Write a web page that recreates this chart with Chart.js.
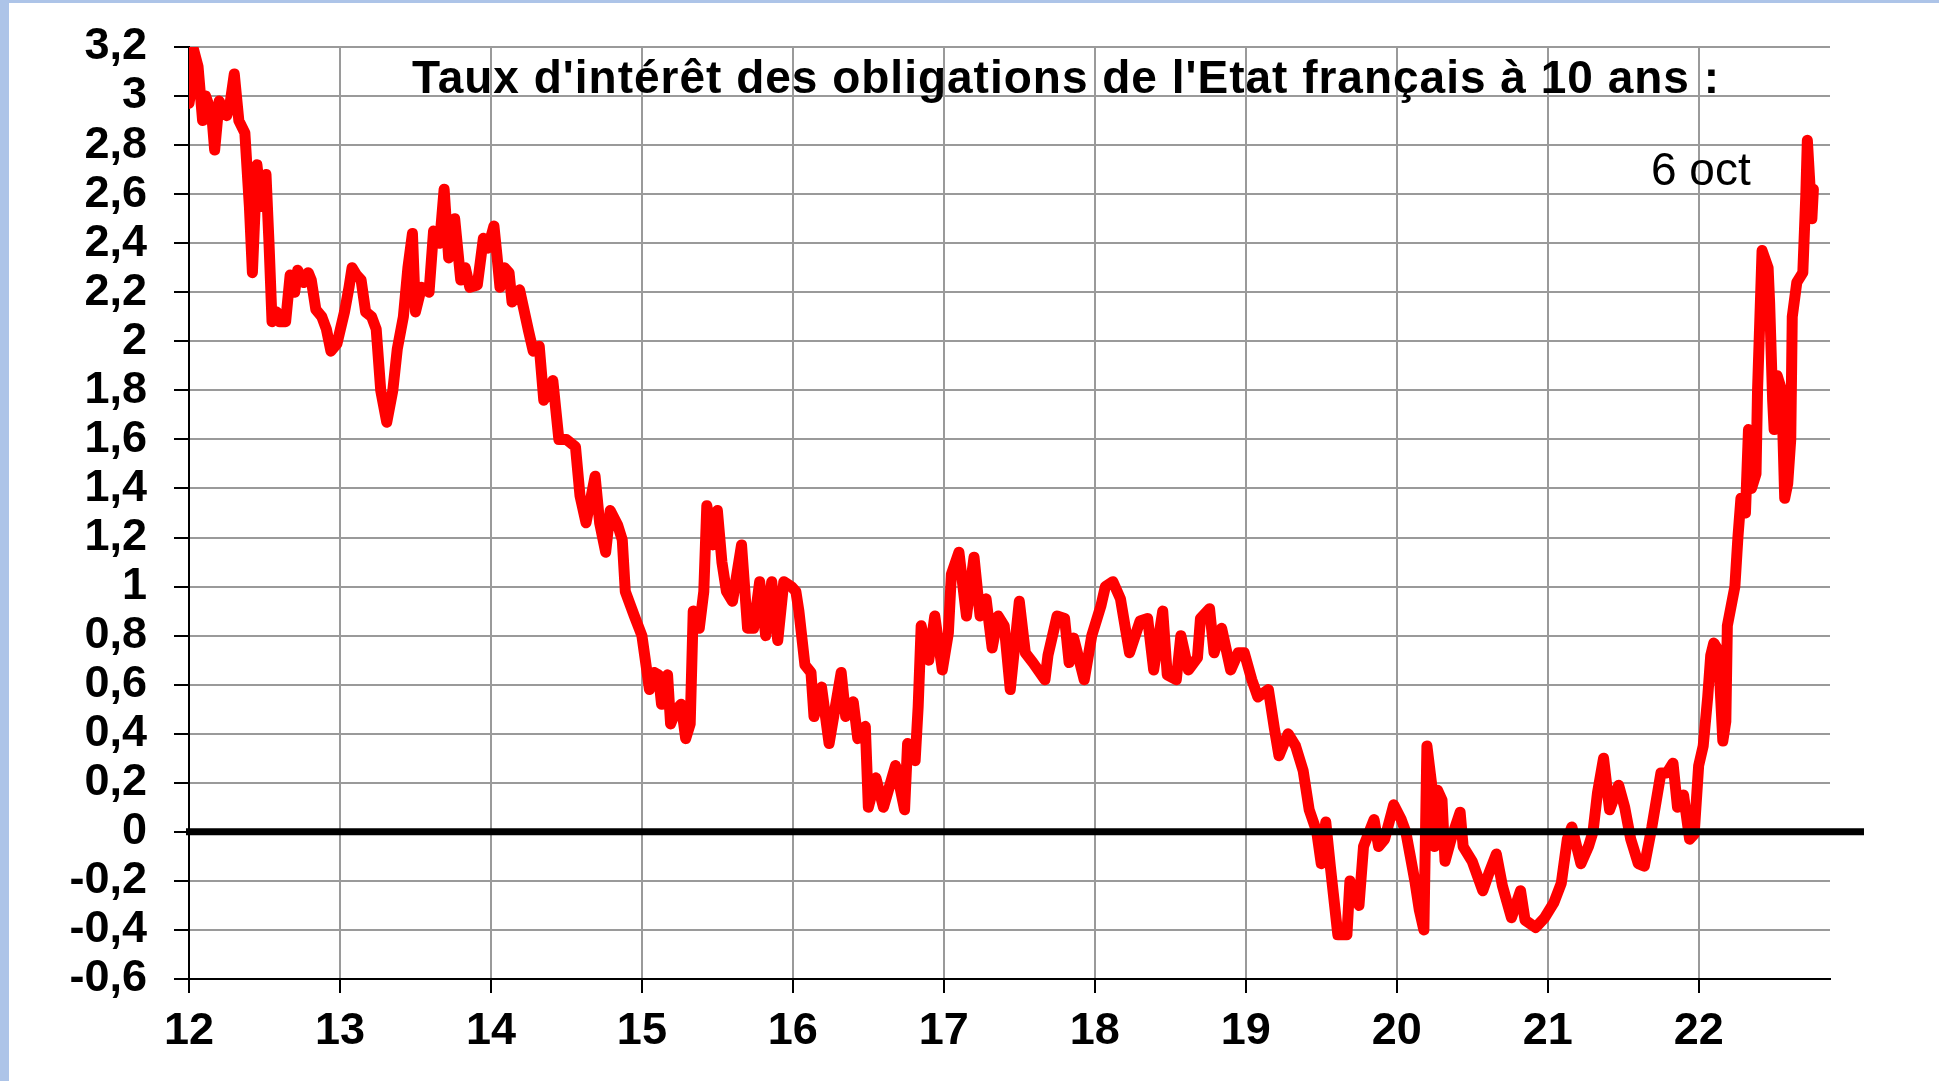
<!DOCTYPE html>
<html>
<head>
<meta charset="utf-8">
<script src="https://cdn.jsdelivr.net/npm/chart.js@4.4.0/dist/chart.umd.min.js"></script>
<style>
  body { margin: 0; background: #fff; }
  #wrap { position: relative; width: 1939px; height: 1081px; }
  .band { position: absolute; background: #adc4e8; }
  canvas { position: absolute; left: 0; top: 0; }
</style>
</head>
<body>
<div id="wrap">
  <div class="band" style="left:0;top:0;width:9px;height:1081px"></div>
  <div class="band" style="left:0;top:0;width:1939px;height:3px"></div>
  <canvas id="chart" width="1939" height="1081"></canvas>
</div>
<script>
// French 10-year government bond yield (%), [year, value]
const y2012 = [[12.00, 2.97], [12.02, 3.05], [12.03, 3.19], [12.06, 3.12], [12.09, 2.90], [12.11, 3.00], [12.15, 2.93], [12.17, 2.78], [12.20, 2.98], [12.23, 2.94], [12.25, 2.92], [12.27, 2.96], [12.30, 3.09], [12.33, 2.90], [12.37, 2.85], [12.40, 2.55], [12.42, 2.28], [12.45, 2.72], [12.48, 2.55], [12.51, 2.68], [12.53, 2.40], [12.55, 2.08], [12.58, 2.12], [12.60, 2.08], [12.64, 2.08], [12.67, 2.27], [12.70, 2.20], [12.72, 2.29], [12.76, 2.24], [12.79, 2.28], [12.81, 2.25], [12.84, 2.13], [12.88, 2.10], [12.91, 2.05], [12.94, 1.96], [12.98, 1.99]];
const y2013 = [[13.03, 2.12], [13.06, 2.22], [13.08, 2.30], [13.11, 2.27], [13.14, 2.25], [13.17, 2.12], [13.21, 2.10], [13.24, 2.05], [13.27, 1.80], [13.31, 1.67], [13.35, 1.80], [13.38, 1.97], [13.42, 2.10], [13.45, 2.30], [13.48, 2.44], [13.50, 2.12], [13.54, 2.22], [13.59, 2.20], [13.62, 2.45], [13.66, 2.40], [13.69, 2.62], [13.72, 2.34], [13.76, 2.50], [13.80, 2.25], [13.83, 2.30], [13.86, 2.22], [13.91, 2.23], [13.95, 2.42], [13.98, 2.38]];
const y2014 = [[14.02, 2.47], [14.04, 2.35], [14.06, 2.22], [14.09, 2.30], [14.12, 2.28], [14.14, 2.16], [14.19, 2.21], [14.25, 2.04], [14.28, 1.96], [14.32, 1.98], [14.35, 1.76], [14.41, 1.84], [14.45, 1.60], [14.50, 1.60], [14.56, 1.57], [14.59, 1.37], [14.63, 1.26], [14.69, 1.45], [14.72, 1.26], [14.76, 1.14], [14.79, 1.31], [14.84, 1.25], [14.87, 1.19], [14.89, 0.98], [14.95, 0.88]];
const y2015 = [[15.00, 0.80], [15.05, 0.58], [15.08, 0.65], [15.11, 0.64], [15.13, 0.52], [15.17, 0.64], [15.19, 0.44], [15.23, 0.50], [15.26, 0.52], [15.29, 0.38], [15.32, 0.44], [15.34, 0.90], [15.38, 0.83], [15.41, 0.98], [15.43, 1.33], [15.47, 1.17], [15.50, 1.31], [15.53, 1.10], [15.56, 0.98], [15.60, 0.94], [15.66, 1.17], [15.70, 0.83], [15.74, 0.83], [15.78, 1.02], [15.82, 0.80], [15.86, 1.02], [15.90, 0.78], [15.94, 1.02], [15.99, 1.00]];
const y2016 = [[16.02, 0.98], [16.04, 0.90], [16.08, 0.68], [16.12, 0.65], [16.14, 0.47], [16.19, 0.59], [16.24, 0.36], [16.32, 0.65], [16.35, 0.47], [16.40, 0.53], [16.43, 0.38], [16.48, 0.43], [16.50, 0.10], [16.55, 0.22], [16.60, 0.10], [16.68, 0.27], [16.74, 0.09], [16.76, 0.36], [16.81, 0.29], [16.83, 0.51], [16.85, 0.84], [16.90, 0.70], [16.94, 0.88], [16.99, 0.66]];
const y2017 = [[17.03, 0.81], [17.05, 1.05], [17.10, 1.14], [17.15, 0.88], [17.20, 1.12], [17.24, 0.88], [17.28, 0.95], [17.32, 0.75], [17.36, 0.88], [17.40, 0.84], [17.44, 0.58], [17.50, 0.94], [17.54, 0.73], [17.59, 0.69], [17.67, 0.62], [17.69, 0.72], [17.75, 0.88], [17.80, 0.87], [17.83, 0.69], [17.86, 0.79], [17.93, 0.62], [17.98, 0.80]];
const y2018 = [[18.04, 0.92], [18.07, 1.00], [18.12, 1.02], [18.17, 0.95], [18.23, 0.73], [18.30, 0.86], [18.35, 0.87], [18.39, 0.66], [18.45, 0.90], [18.48, 0.64], [18.54, 0.62], [18.57, 0.80], [18.62, 0.66], [18.68, 0.71], [18.70, 0.87], [18.76, 0.91], [18.79, 0.73], [18.84, 0.83], [18.90, 0.66], [18.95, 0.73], [18.99, 0.73]];
const y2019 = [[19.04, 0.62], [19.08, 0.55], [19.15, 0.58], [19.19, 0.42], [19.22, 0.31], [19.28, 0.40], [19.33, 0.35], [19.38, 0.25], [19.42, 0.09], [19.47, 0.00], [19.50, -0.13], [19.53, 0.04], [19.56, -0.14], [19.61, -0.42], [19.67, -0.42], [19.69, -0.20], [19.75, -0.30], [19.78, -0.06], [19.85, 0.05], [19.88, -0.06], [19.92, -0.03], [19.98, 0.11]];
const y2020 = [[20.03, 0.05], [20.06, 0.00], [20.09, -0.10], [20.12, -0.20], [20.15, -0.32], [20.18, -0.40], [20.20, 0.35], [20.23, 0.20], [20.25, -0.06], [20.27, 0.17], [20.30, 0.13], [20.32, -0.12], [20.36, -0.03], [20.42, 0.08], [20.44, -0.06], [20.50, -0.12], [20.57, -0.24], [20.61, -0.17], [20.66, -0.09], [20.70, -0.22], [20.76, -0.35], [20.82, -0.24], [20.85, -0.36], [20.92, -0.39], [20.98, -0.35]];
const y2021 = [[21.04, -0.29], [21.09, -0.21], [21.13, -0.03], [21.16, 0.02], [21.22, -0.13], [21.27, -0.06], [21.30, 0.00], [21.33, 0.16], [21.37, 0.30], [21.41, 0.09], [21.47, 0.19], [21.51, 0.10], [21.55, -0.03], [21.60, -0.13], [21.64, -0.14], [21.69, 0.02], [21.75, 0.24], [21.79, 0.24], [21.83, 0.28], [21.86, 0.10], [21.90, 0.15], [21.94, -0.03], [21.97, -0.01]];
const y2022 = [[22.00, 0.27], [22.03, 0.35], [22.06, 0.55], [22.08, 0.72], [22.10, 0.77], [22.13, 0.74], [22.16, 0.37], [22.18, 0.45], [22.19, 0.84], [22.24, 1.00], [22.26, 1.20], [22.28, 1.36], [22.31, 1.30], [22.33, 1.64], [22.35, 1.40], [22.38, 1.46], [22.39, 1.80], [22.42, 2.37], [22.46, 2.30], [22.47, 2.16], [22.49, 1.76], [22.50, 1.64], [22.52, 1.86], [22.55, 1.80], [22.57, 1.36], [22.59, 1.42], [22.61, 1.60], [22.62, 2.10], [22.65, 2.24], [22.69, 2.28], [22.71, 2.60], [22.72, 2.82], [22.75, 2.50], [22.76, 2.62]];

const xTicks = [12, 13, 14, 15, 16, 17, 18, 19, 20, 21, 22];
const title = "Taux d'intérêt des obligations de l'Etat français à 10 ans :";
const lastLabel = "6 oct";

const points = [y2012, y2013, y2014, y2015, y2016, y2017, y2018, y2019, y2020, y2021, y2022]
  .flat()
  .map(([x, y]) => ({ x, y }));

const FONT = "'Liberation Sans', Arial, sans-serif";
const tickFont = { family: FONT, size: 45, weight: 'bold' };

// title, "6 oct" note and the thick zero line
const overlay = {
  id: 'overlay',
  beforeDatasetsDraw(chart) {
    const { ctx } = chart;
    ctx.save();
    ctx.fillStyle = '#000';
    ctx.textBaseline = 'alphabetic';
    ctx.font = `bold 46px ${FONT}`;
    ctx.letterSpacing = '1px';
    ctx.fillText(title, 412, 93);
    ctx.letterSpacing = '0px';
    ctx.font = `46px ${FONT}`;
    ctx.fillText(lastLabel, 1651, 185);
    ctx.restore();
  },
  afterDatasetsDraw(chart) {
    const { ctx, chartArea, scales } = chart;
    const py = scales.y.getPixelForValue(0);
    ctx.save();
    ctx.strokeStyle = '#000';
    ctx.lineWidth = 7;
    ctx.beginPath();
    ctx.moveTo(chartArea.left - 3, py);
    ctx.lineTo(chartArea.right + 34, py);
    ctx.stroke();
    ctx.restore();
  }
};

new Chart(document.getElementById('chart'), {
  type: 'line',
  data: {
    datasets: [{
      data: points,
      borderColor: '#ff0000',
      borderWidth: 11,
      pointRadius: 0,
      tension: 0,
      borderJoinStyle: 'round',
      borderCapStyle: 'round'
    }]
  },
  options: {
    responsive: false,
    animation: false,
    layout: { padding: { left: 0, right: 109, top: 47, bottom: 0 } },
    plugins: { legend: { display: false }, tooltip: { enabled: false } },
    scales: {
      x: {
        type: 'linear',
        min: 12,
        max: 22.87,
        afterBuildTicks: (axis) => { axis.ticks = xTicks.map((value) => ({ value })); },
        afterFit: (s) => { s.height = 102; s.paddingLeft = 0; s.paddingRight = 0; },
        grid: { color: '#9a9a9a', lineWidth: 2, tickLength: 14, tickColor: '#000', tickWidth: 2 },
        border: { color: '#000', width: 2 },
        ticks: { font: tickFont, color: '#000', padding: 12, maxRotation: 0, autoSkip: false, callback: (v) => String(v) }
      },
      y: {
        min: -0.6,
        max: 3.2,
        afterFit: (s) => { s.width = 189; s.paddingTop = 0; s.paddingBottom = 0; },
        grid: { color: '#9a9a9a', lineWidth: 2, tickLength: 15, tickColor: '#000', tickWidth: 2 },
        border: { color: '#000', width: 2 },
        ticks: {
          stepSize: 0.2,
          font: tickFont,
          color: '#000',
          padding: 27,
          autoSkip: false,
          callback: (v) => String(Math.round(v * 10) / 10).replace('.', ',')
        }
      }
    }
  },
  plugins: [overlay]
});
</script>
</body>
</html>
